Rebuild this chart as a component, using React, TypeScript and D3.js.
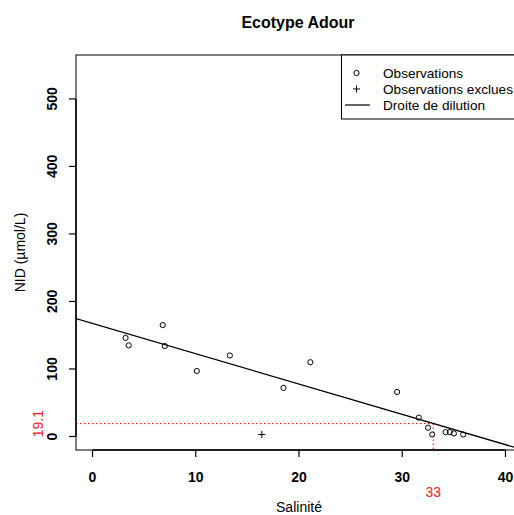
import React, { useEffect, useRef } from "react";
import * as d3 from "d3";

// observations kept for the fit
const salinity = [3.2, 3.5, 6.8, 7.0, 10.1, 13.3, 18.5, 21.1, 29.5, 31.6, 32.5, 32.9, 34.2, 34.6, 35.0, 35.9];
const nid = [146, 135, 165, 134, 97, 120, 72, 110, 66, 28, 13, 3, 6.5, 6.5, 4.5, 3];

// excluded observations
const excludedSalinity = [16.4];
const excludedNid = [3];

// dilution line: nid = intercept + slope * salinity
const dilutionIntercept = 167.5;
const dilutionSlope = -4.49;

const thresholdNid = 19.1;
const thresholdSalinity = 33;

const xTicks = [0, 10, 20, 30, 40];
const yTicks = [0, 100, 200, 300, 400, 500];
const legendLabels = ["Observations", "Observations exclues", "Droite de dilution"];

const W = 514;
const H = 515;
const FONT = "'Liberation Sans', Arial, Helvetica, sans-serif";

const App: React.FC = () => {
  const ref = useRef<SVGSVGElement | null>(null);

  useEffect(() => {
    const svg = d3.select(ref.current);
    svg.selectAll("*").remove();

    const left = 76, right = 522, top = 55, bottom = 450;
    const x = d3.scaleLinear().domain([-1.6, 41.6]).range([left, right]);
    const y = d3.scaleLinear().domain([-20, 565]).range([bottom, top]);

    svg.append("defs").append("clipPath").attr("id", "plotclip")
      .append("rect").attr("x", left).attr("y", top).attr("width", right - left).attr("height", bottom - top);

    // title
    svg.append("text")
      .attr("x", 298).attr("y", 28)
      .attr("text-anchor", "middle").attr("font-size", 16).attr("font-weight", "bold")
      .attr("font-family", FONT).text("Ecotype Adour");

    // box
    svg.append("rect")
      .attr("x", left).attr("y", top).attr("width", right - left).attr("height", bottom - top)
      .attr("fill", "none").attr("stroke", "#000").attr("stroke-width", 1);

    // x axis
    const gx = svg.append("g");
    gx.append("line").attr("x1", x(0)).attr("x2", x(40)).attr("y1", bottom).attr("y2", bottom)
      .attr("stroke", "#000").attr("stroke-width", 1.5);
    xTicks.forEach(t => {
      gx.append("line").attr("x1", x(t)).attr("x2", x(t)).attr("y1", bottom).attr("y2", bottom + 7)
        .attr("stroke", "#000").attr("stroke-width", 1.2);
      gx.append("text").attr("x", x(t)).attr("y", 482).attr("text-anchor", "middle")
        .attr("font-size", 14).attr("font-weight", "bold").attr("font-family", FONT).text(t);
    });

    // y axis
    const gy = svg.append("g");
    gy.append("line").attr("x1", left).attr("x2", left).attr("y1", y(0)).attr("y2", y(500))
      .attr("stroke", "#000").attr("stroke-width", 1.5);
    yTicks.forEach(t => {
      gy.append("line").attr("x1", left - 7).attr("x2", left).attr("y1", y(t)).attr("y2", y(t))
        .attr("stroke", "#000").attr("stroke-width", 1.2);
      gy.append("text").attr("transform", `translate(57,${y(t)}) rotate(-90)`)
        .attr("text-anchor", "middle").attr("font-size", 14).attr("font-weight", "bold")
        .attr("font-family", FONT).text(t);
    });

    // axis titles
    svg.append("text").attr("x", 299).attr("y", 512).attr("text-anchor", "middle")
      .attr("font-size", 14).attr("font-family", FONT).text("Salinité");
    svg.append("text").attr("transform", `translate(25,${(top + bottom) / 2}) rotate(-90)`)
      .attr("text-anchor", "middle").attr("font-size", 14).attr("font-family", FONT).text("NID (µmol/L)");

    const plot = svg.append("g").attr("clip-path", "url(#plotclip)");

    // threshold guides
    plot.append("line").attr("x1", left).attr("x2", x(thresholdSalinity))
      .attr("y1", y(thresholdNid)).attr("y2", y(thresholdNid))
      .attr("stroke", "#ff0000").attr("stroke-width", 1).attr("stroke-dasharray", "1.5,2.5");
    plot.append("line").attr("x1", x(thresholdSalinity)).attr("x2", x(thresholdSalinity))
      .attr("y1", y(thresholdNid)).attr("y2", bottom)
      .attr("stroke", "#ff0000").attr("stroke-width", 1).attr("stroke-dasharray", "1.5,2.5");

    // dilution line
    const [x0, x1] = x.domain();
    plot.append("line")
      .attr("x1", x(x0)).attr("y1", y(dilutionIntercept + dilutionSlope * x0))
      .attr("x2", x(x1)).attr("y2", y(dilutionIntercept + dilutionSlope * x1))
      .attr("stroke", "#000").attr("stroke-width", 1.3);

    // observations
    plot.selectAll("circle.obs").data(d3.range(salinity.length)).enter()
      .append("circle").attr("class", "obs")
      .attr("cx", i => x(salinity[i])).attr("cy", i => y(nid[i])).attr("r", 2.6)
      .attr("fill", "none").attr("stroke", "#000").attr("stroke-width", 1);

    // excluded
    excludedSalinity.forEach((s, i) => {
      const cx = x(s), cy = y(excludedNid[i]);
      plot.append("path").attr("d", `M${cx - 3.5},${cy}H${cx + 3.5}M${cx},${cy - 3.5}V${cy + 3.5}`)
        .attr("stroke", "#000").attr("stroke-width", 1);
    });

    // red threshold labels
    svg.append("text").attr("transform", `translate(43,${y(thresholdNid)}) rotate(-90)`)
      .attr("text-anchor", "middle").attr("font-size", 14).attr("fill", "#ff2020")
      .attr("font-family", FONT).text(thresholdNid);
    svg.append("text").attr("x", x(thresholdSalinity)).attr("y", 497).attr("text-anchor", "middle")
      .attr("font-size", 14).attr("fill", "#ff2020").attr("font-family", FONT).text(thresholdSalinity);

    // legend
    const lg = svg.append("g");
    lg.append("rect").attr("x", 341.5).attr("y", top).attr("width", right - 341.5).attr("height", 64)
      .attr("fill", "#fff").attr("stroke", "#000").attr("stroke-width", 1);
    const rows = [73, 89, 105];
    legendLabels.forEach((lab, i) => {
      lg.append("text").attr("x", 383).attr("y", rows[i] + 4.8).attr("font-size", 13.6)
        .attr("font-family", FONT).text(lab);
    });
    lg.append("circle").attr("cx", 356.5).attr("cy", rows[0]).attr("r", 2.6)
      .attr("fill", "none").attr("stroke", "#000");
    lg.append("path").attr("d", `M353,${rows[1]}H360M356.5,${rows[1] - 3.5}V${rows[1] + 3.5}`)
      .attr("stroke", "#000");
    lg.append("line").attr("x1", 345).attr("x2", 370).attr("y1", rows[2]).attr("y2", rows[2])
      .attr("stroke", "#000").attr("stroke-width", 1.2);
  }, []);

  return (
    <svg ref={ref} width={W} height={H}
      style={{ position: "absolute", left: 0, top: 0, background: "#fff" }} />
  );
};

export default App;
